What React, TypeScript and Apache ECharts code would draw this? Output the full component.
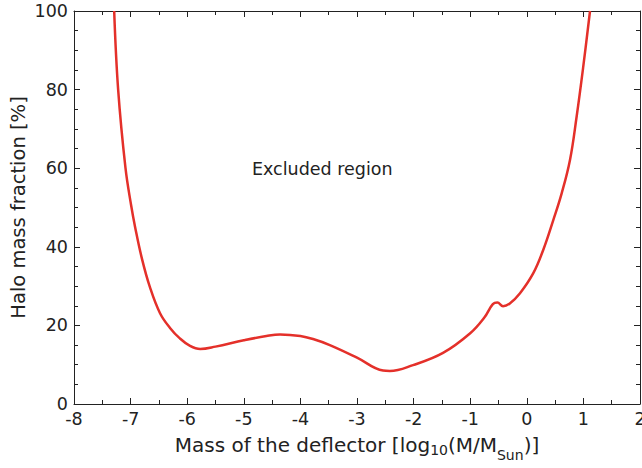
import React, { useEffect, useRef } from "react";
import * as echarts from "echarts";

const massLog: number[] = [
  -7.29, -7.22, -7.09, -6.99, -6.92, -6.8, -6.66, -6.48, -6.3, -6.13, -5.95, -5.77, -5.5,
  -5.0, -4.6, -4.36, -4.0, -3.75, -3.48, -3.0, -2.54, -2.42, -2.01, -1.48, -1.0, -0.75, -0.6, -0.52,
  -0.42, -0.3, -0.12, 0.115, 0.29, 0.468, 0.616, 0.763, 0.88, 0.998, 1.117,
];
const haloFraction: number[] = [
  100, 80, 60, 50.5, 45.0, 37.0, 29.8, 23.1, 19.3, 16.7, 14.8, 14.0, 14.6,
  16.2, 17.3, 17.7, 17.3, 16.4, 15.0, 11.8, 8.5, 8.4, 9.9, 13.0, 18.0, 22.0, 25.4, 25.8,
  24.9, 25.6, 28.2, 33.3, 39.2, 46.8, 53.6, 62.1, 73.1, 85.9, 100,
];
const regionLabel = "Excluded region";

const FONT = "DejaVu Sans, sans-serif";
const AX = "#222";

export default function App() {
  const ref = useRef<HTMLDivElement>(null);
  useEffect(() => {
    if (!ref.current) return;
    const chart = echarts.init(ref.current, undefined, { renderer: "svg" });
    const axisCommon = {
      axisLine: { show: true, onZero: false, lineStyle: { color: AX, width: 1 } },
      axisTick: { show: true, inside: true, length: 6, lineStyle: { color: AX, width: 1 } },
      minorTick: { show: true, length: 4, lineStyle: { color: AX, width: 1 } },
      splitLine: { show: false },
    };
    chart.setOption({
      animation: false,
      backgroundColor: "#fff",
      grid: {
        left: 74,
        right: 2,
        top: 11,
        bottom: 64,
        containLabel: false,
        outerBoundsMode: "none",
      },
      xAxis: [
        {
          type: "value",
          min: -8,
          max: 2,
          interval: 1,
          position: "bottom",
          ...axisCommon,
          minorTick: { ...axisCommon.minorTick, splitNumber: 2 },
          axisLabel: { color: AX, fontSize: 17.5, fontFamily: FONT, margin: 6 },
          name: "{a|Mass of the deflector [log}{s|10}{a|(M/M}{t|Sun}{a|)]}",
          nameLocation: "middle",
          nameGap: 31,
          nameMoveOverlap: false,
          nameTextStyle: {
            color: AX,
            fontFamily: FONT,
            rich: {
              a: { fontSize: 20, lineHeight: 24, verticalAlign: "top", fontFamily: FONT, color: AX },
              s: {
                fontSize: 14,
                lineHeight: 16,
                verticalAlign: "top",
                padding: [8, 0, 0, 0],
                fontFamily: FONT,
                color: AX,
              },
              t: {
                fontSize: 14,
                lineHeight: 16,
                verticalAlign: "top",
                padding: [13, 0, 0, 0],
                fontFamily: FONT,
                color: AX,
              },
            },
          },
        },
        {
          type: "value",
          min: -8,
          max: 2,
          interval: 1,
          position: "top",
          ...axisCommon,
          minorTick: { ...axisCommon.minorTick, splitNumber: 2 },
          axisLabel: { show: false },
        },
      ],
      yAxis: [
        {
          type: "value",
          min: 0,
          max: 100,
          interval: 20,
          position: "left",
          ...axisCommon,
          minorTick: { ...axisCommon.minorTick, splitNumber: 4 },
          axisLabel: { color: AX, fontSize: 17.5, fontFamily: FONT, margin: 6 },
          name: "Halo mass fraction [%]",
          nameLocation: "middle",
          nameGap: 46,
          nameMoveOverlap: false,
          nameTextStyle: { color: AX, fontSize: 19.5, fontFamily: FONT },
        },
        {
          type: "value",
          min: 0,
          max: 100,
          interval: 20,
          position: "right",
          ...axisCommon,
          minorTick: { ...axisCommon.minorTick, splitNumber: 4 },
          axisLabel: { show: false },
        },
      ],
      graphic: [
        {
          type: "text",
          left: 252,
          top: 160,
          style: { text: regionLabel, fontSize: 17.5, fontFamily: FONT, fill: AX },
        },
      ],
      series: [
        {
          type: "line",
          xAxisIndex: 0,
          yAxisIndex: 0,
          data: massLog.map((x, i) => [x, haloFraction[i]]),
          smooth: 0.4,
          showSymbol: false,
          clip: true,
          lineStyle: { color: "#e4302a", width: 2.5 },
        },
      ],
    });
    return () => chart.dispose();
  }, []);
  return (
    <div
      ref={ref}
      style={{ position: "absolute", left: 0, top: 0, width: 642, height: 468 }}
    />
  );
}
